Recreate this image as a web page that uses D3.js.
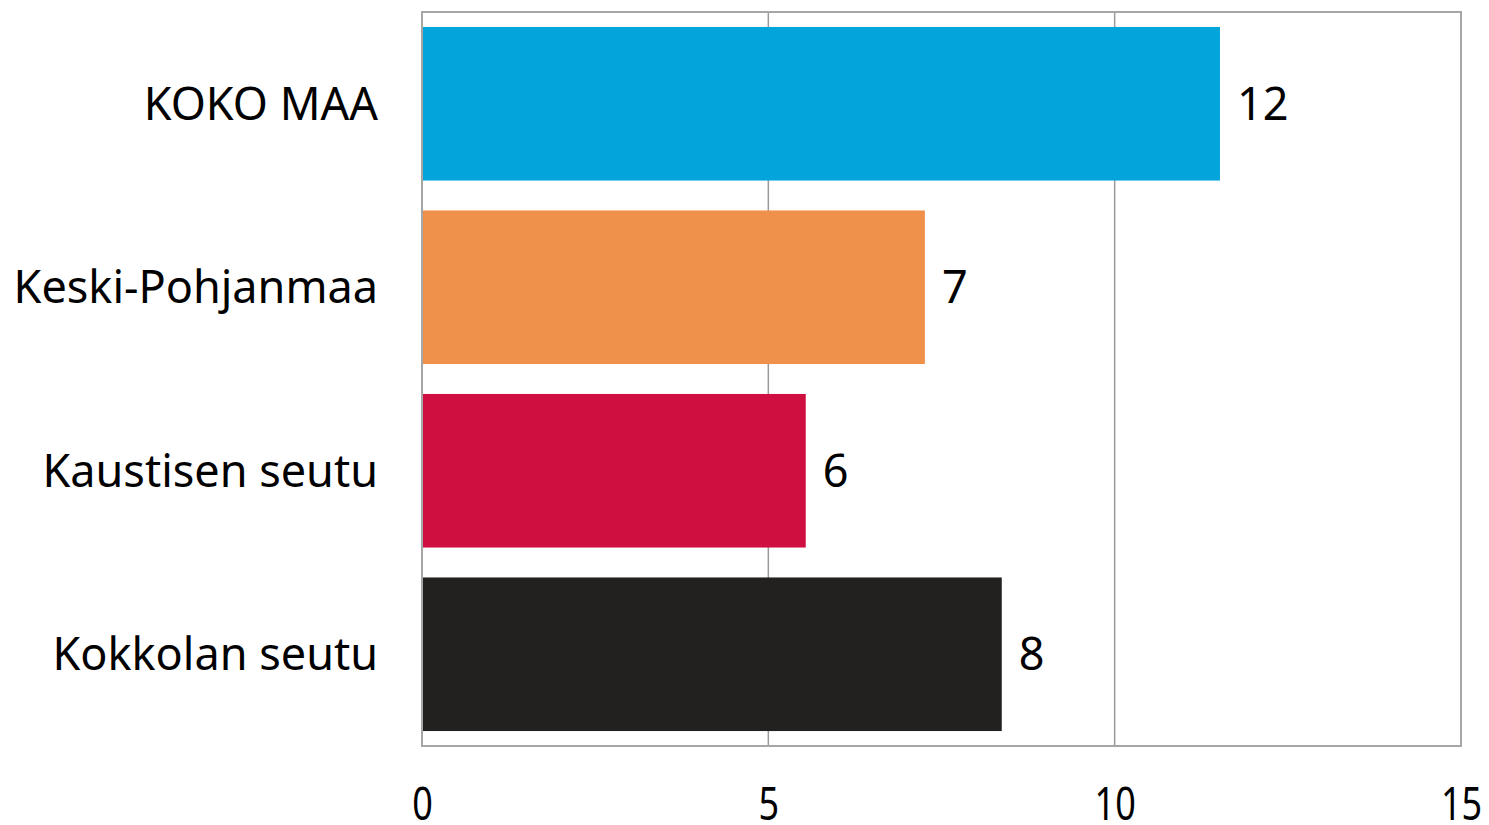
<!DOCTYPE html>
<html>
<head>
<meta charset="utf-8">
<script src="https://cdn.jsdelivr.net/npm/d3@7"></script>
<style>
  html, body { margin: 0; padding: 0; background: #fff; }
  text { font-family: "Noto Sans", "Open Sans", sans-serif; fill: #000; }
</style>
</head>
<body>
<svg id="chart" width="1489" height="825"></svg>
<script>
// data
var categories = ['KOKO MAA', 'Keski-Pohjanmaa', 'Kaustisen seutu', 'Kokkolan seutu'];
var values = [11.52, 7.26, 5.54, 8.37];
var valueLabels = ['12', '7', '6', '8'];
var colors = ['#02a5db', '#f0914b', '#cf0f3f', '#222120'];
var tickValues = [0, 5, 10, 15];

var margin = { top: 12, right: 28, bottom: 79, left: 422 };
var width = 1489 - margin.left - margin.right;
var height = 825 - margin.top - margin.bottom;

var svg = d3.select('#chart');
var g = svg.append('g')
    .attr('transform', 'translate(' + margin.left + ',' + margin.top + ')');

var x = d3.scaleLinear().domain([0, 15]).range([0, width]);
var y = d3.scaleBand()
    .domain(categories)
    .range([0, height])
    .paddingInner(0.163)
    .paddingOuter(0.0815);

// gridlines
g.append('g')
    .selectAll('line')
    .data(tickValues.slice(1, -1))
    .enter().append('line')
    .attr('x1', function (d) { return x(d); })
    .attr('x2', function (d) { return x(d); })
    .attr('y1', 0)
    .attr('y2', height)
    .attr('stroke', '#9a9a9a')
    .attr('stroke-width', 1.5);

// bars
var rows = categories.map(function (c, i) {
    return { cat: c, value: values[i], label: valueLabels[i], color: colors[i] };
});

g.selectAll('rect.bar')
    .data(rows)
    .enter().append('rect')
    .attr('class', 'bar')
    .attr('x', x(0))
    .attr('y', function (d) { return y(d.cat); })
    .attr('width', function (d) { return x(d.value) - x(0); })
    .attr('height', y.bandwidth())
    .attr('fill', function (d) { return d.color; });

// plot frame
g.append('rect')
    .attr('x', 0)
    .attr('y', 0)
    .attr('width', width)
    .attr('height', height)
    .attr('fill', 'none')
    .attr('stroke', '#a6a6a6')
    .attr('stroke-width', 2);

// value labels
g.selectAll('text.val')
    .data(rows)
    .enter().append('text')
    .attr('class', 'val')
    .attr('x', function (d) { return x(d.value) + 17; })
    .attr('y', function (d) { return y(d.cat) + y.bandwidth() / 2; })
    .attr('dy', '0.36em')
    .style('font-size', '45px')
    .text(function (d) { return d.label; });

// category labels
g.selectAll('text.cat')
    .data(categories)
    .enter().append('text')
    .attr('class', 'cat')
    .attr('x', -44)
    .attr('y', function (d) { return y(d) + y.bandwidth() / 2; })
    .attr('dy', '0.36em')
    .attr('text-anchor', 'end')
    .style('font-size', '45px')
    .text(function (d) { return d; });

// x axis tick labels (narrow)
var xAxis = d3.axisBottom(x)
    .tickValues(tickValues)
    .tickSize(0)
    .tickPadding(0)
    .tickFormat(d3.format('d'));

var axisG = g.append('g')
    .attr('transform', 'translate(0,' + height + ')')
    .call(xAxis);
axisG.select('.domain').remove();
axisG.selectAll('.tick text')
    .attr('y', 0)
    .attr('dy', 0)
    .attr('transform', 'translate(0,74) scale(0.8,1)')
    .style('font-size', '45px')
    .attr('fill', '#000');
</script>
</body>
</html>
